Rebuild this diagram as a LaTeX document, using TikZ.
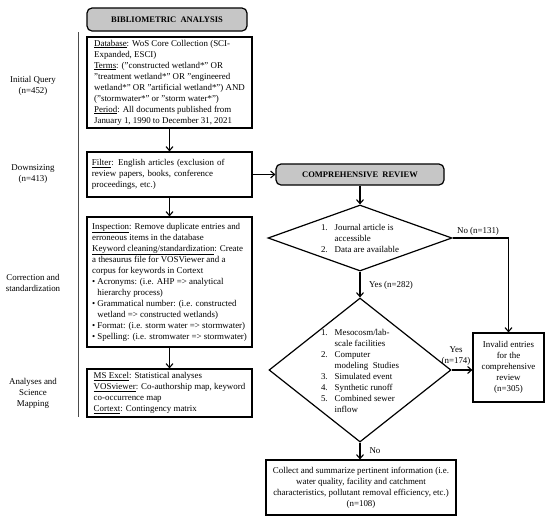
\documentclass[tikz,border=0pt]{standalone}
\usepackage{fontspec}
\setmainfont{Liberation Serif}
\usetikzlibrary{shapes.geometric,arrows.meta}
\begin{document}
\begin{tikzpicture}[x=1pt,y=-1pt,
 txt/.style={font=\fontsize{8.9}{11}\selectfont},
 box/.style={txt, draw, line width=1.2pt, inner sep=0pt},
 lbox/.style={box, align=left},
 head/.style={draw, line width=1.2pt, rounded corners=5pt, fill=gray!45, font=\fontsize{8.5}{10}\selectfont\bfseries},
 dec/.style={draw, line width=1.2pt, diamond, inner sep=0pt},
 arr/.style={line width=1.1pt, -{Straight Barb[length=4pt,width=7pt]}}]
\useasboundingbox (0,0) rectangle (550,523);
\node[head, minimum width=160, minimum height=23] (bib) at (167,19.5){BIBLIOMETRIC\ \ ANALYSIS};
\draw[gray!60!black, line width=0.7pt] (78,32) -- (78,417);
\node[txt, align=center] (lq) at (33,86){Initial Query\\(n=452)};
\node[txt, align=center] (ld) at (33,174){Downsizing\\(n=413)};
\node[txt, align=center] (lc) at (33,283){Correction and\\standardization};
\node[txt, align=center] (la) at (33,393){Analyses and\\Science\\Mapping};
\node[lbox, minimum width=165, minimum height=91] (db) at (169.5,82.5){\underline{Database}: WoS Core Collection (SCI-\\
Expanded, ESCI)\\
\underline{Terms}: ("constructed wetland*" OR\\
"treatment wetland*" OR "engineered\\
wetland*" OR "artificial wetland*") AND\\
("stormwater*" or "storm water*")\\
\underline{Period}: All documents published from\\
January 1, 1990 to December 31, 2021};
\node[lbox, text width=155pt, minimum width=165, minimum height=45] (filt) at (169.5,174.5){\underline{Filter}: English articles (exclusion of\\
review papers, books, conference\\
proceedings, etc.)};
\node[lbox, minimum width=165, minimum height=130] (insp) at (169.5,282){\underline{Inspection}: Remove duplicate entries and\\
erroneous items in the database\\
\underline{Keyword cleaning/standardization}: Create\\
a thesaurus file for VOSViewer and a\\
corpus for keywords in Cortext\\
\textbullet\ Acronyms: (i.e. AHP => analytical\\
\phantom{\textbullet\ }hierarchy process)\\
\textbullet\ Grammatical number: (i.e. constructed\\
\phantom{\textbullet\ }wetland => constructed wetlands)\\
\textbullet\ Format: (i.e. storm water => stormwater)\\
\textbullet\ Spelling: (i.e. stromwater => stormwater)};
\node[lbox, minimum width=165, minimum height=48] (sw) at (169.5,393){\underline{MS Excel}: Statistical analyses\\
\underline{VOSviewer}: Co-authorship map, keyword\\
co-occurrence map\\
\underline{Cortext}: Contingency matrix};
\draw[arr] (db) -- (filt);
\draw[arr] (filt) -- (insp);
\draw[arr] (insp) -- (sw);
\node[head, minimum width=168, minimum height=21] (rev) at (360,174.5){COMPREHENSIVE\ \ REVIEW};
\draw[arr] (filt) -- (rev);
\node[dec, minimum width=184, minimum height=66] (d1) at (360,238){};
\node[txt] (t1) at (360,239){\begin{tabular}{@{}l@{\hspace{7pt}}l@{}}1. & Journal article is\\ & accessible\\ 2. & Data are available\end{tabular}};
\node[dec, minimum width=182, minimum height=144] (d2) at (360,370){};
\node[txt] (t2) at (360,372){\begin{tabular}{@{}l@{\hspace{7pt}}l@{}}1. & Mesocosm/lab-\\ & scale facilities\\ 2. & Computer\\ & modeling\ \ Studies\\ 3. & Simulated event\\ 4. & Synthetic runoff\\ 5. & Combined sewer\\ & inflow\end{tabular}};
\node[box, align=center, minimum width=71, minimum height=69] (inv) at (508.5,367.5){Invalid entries\\for the\\comprehensive\\review\\(n=305)};
\node[box, align=center, minimum width=190, minimum height=55] (col) at (361,487.5){Collect and summarize pertinent information (i.e.\\water quality, facility and catchment\\characteristics, pollutant removal efficiency, etc.)\\(n=108)};
\draw[arr] (rev) -- (d1);
\draw[arr] (d1) -- (d2);
\draw[arr] (d1.east) -| (inv.north);
\draw[arr] (d2.east) -- (d2.east -| inv.west);
\draw[arr] (d2.south) -- (d2.south |- col.north);
\node[txt] (no1) at (478,231){No (n=131)};
\node[txt] (yes1) at (391,285){Yes (n=282)};
\node[txt, align=center] (yes2) at (456,356){Yes\\(n=174)};
\node[txt, anchor=west] (no2) at (366,451){No};
\end{tikzpicture}
\end{document}
